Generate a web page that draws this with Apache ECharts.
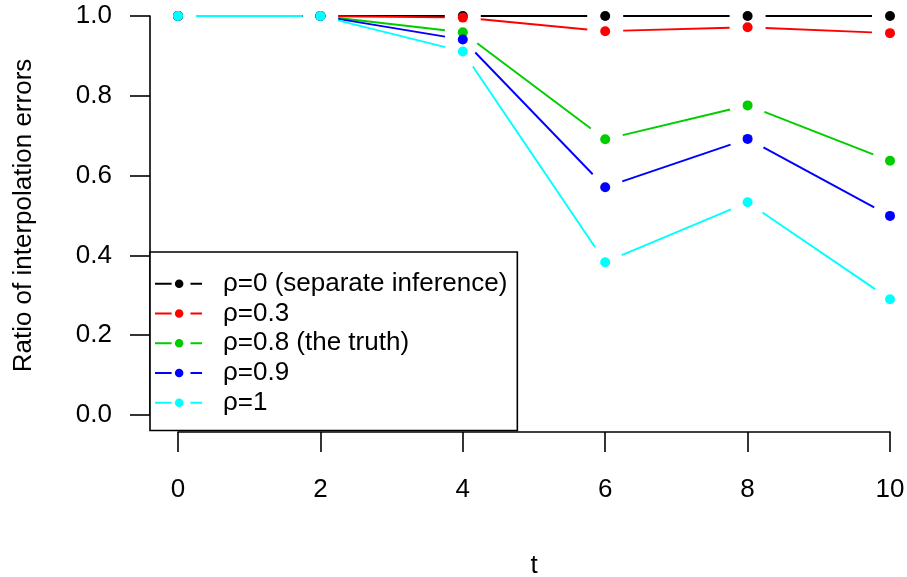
<!DOCTYPE html>
<html>
<head>
<meta charset="utf-8">
<script src="https://cdn.jsdelivr.net/npm/echarts@6/dist/echarts.min.js"></script>
<style>
html,body{margin:0;padding:0;background:#fff;}
#chart{width:907px;height:577px;}
</style>
</head>
<body>
<div id="chart"></div>
<script>
// ---- data ----
const tValues = [0, 2, 4, 6, 8, 10];
const rho0  = [1, 1, 1.000, 1.000, 1.000, 1.000];
const rho03 = [1, 1, 0.996, 0.962, 0.972, 0.957];
const rho08 = [1, 1, 0.959, 0.691, 0.776, 0.637];
const rho09 = [1, 1, 0.941, 0.571, 0.692, 0.499];
const rho1  = [1, 1, 0.911, 0.383, 0.533, 0.290];
const seriesNames = ['ρ=0 (separate inference)', 'ρ=0.3', 'ρ=0.8 (the truth)', 'ρ=0.9', 'ρ=1'];
const seriesValues = [rho0, rho03, rho08, rho09, rho1];
const seriesColors = ['#000000', '#FF0000', '#00CD00', '#0000FF', '#00FFFF'];
const xTicks = [0, 2, 4, 6, 8, 10];
const yTicks = [0.0, 0.2, 0.4, 0.6, 0.8, 1.0];
const xTitle = 't';
const yTitle = 'Ratio of interpolation errors';

const FONT = "'Liberation Sans', Arial, sans-serif";
const FS = 26;
const GAP = 18;     // gap between point and line (type = "b")
const R = 5;        // point radius

function buildData(vals) {
  return vals.map((v, i) => {
    const ni = Math.min(i + 1, vals.length - 1);
    return [tValues[i], v, tValues[ni], vals[ni]];
  });
}

function renderItem(params, api) {
  const p = api.coord([api.value(0), api.value(1)]);
  const q = api.coord([api.value(2), api.value(3)]);
  const color = api.visual('color');
  const children = [];
  const dx = q[0] - p[0], dy = q[1] - p[1];
  const len = Math.sqrt(dx * dx + dy * dy);
  if (len > 2 * GAP) {
    const ux = dx / len, uy = dy / len;
    children.push({
      type: 'line',
      shape: { x1: p[0] + ux * GAP, y1: p[1] + uy * GAP, x2: q[0] - ux * GAP, y2: q[1] - uy * GAP },
      style: { stroke: color, lineWidth: 1.9 }
    });
  }
  children.push({ type: 'circle', shape: { cx: p[0], cy: p[1], r: R }, style: { fill: color } });
  return { type: 'group', children };
}

const iconPath = 'path://M0,3.3H16.7V5.3H0Z M20,4.3A4.3,4.3 0 1,1 28.6,4.3A4.3,4.3 0 1,1 20,4.3Z M35.7,3.3H47.3V5.3H35.7Z';

const chart = echarts.init(document.getElementById('chart'), null, { renderer: 'canvas' });
chart.setOption({
  animation: false,
  backgroundColor: '#ffffff',
  grid: { left: 178, right: 17, top: 16, bottom: 162, containLabel: false, outerBoundsMode: 'none' },
  xAxis: {
    type: 'value', min: xTicks[0], max: xTicks[xTicks.length - 1], interval: 2,
    offset: 17,
    name: xTitle, nameLocation: 'middle', nameGap: 121, nameMoveOverlap: false,
    nameTextStyle: { fontFamily: FONT, fontSize: FS, color: '#000' },
    axisLine: { show: true, onZero: false, lineStyle: { color: '#000', width: 1.6 } },
    axisTick: { show: true, length: 20, lineStyle: { color: '#000', width: 1.6 } },
    axisLabel: { margin: 45, fontFamily: FONT, fontSize: FS, color: '#000' },
    splitLine: { show: false }
  },
  yAxis: {
    type: 'value', min: yTicks[0], max: yTicks[yTicks.length - 1], interval: 0.2,
    offset: 28,
    name: yTitle, nameLocation: 'middle', nameGap: 113, nameRotate: 90, nameMoveOverlap: false,
    nameTextStyle: { fontFamily: FONT, fontSize: FS, color: '#000' },
    axisLine: { show: true, onZero: false, lineStyle: { color: '#000', width: 1.6 } },
    axisTick: { show: true, length: 20, lineStyle: { color: '#000', width: 1.6 } },
    axisLabel: { margin: 38, fontFamily: FONT, fontSize: FS, color: '#000', formatter: v => v.toFixed(1) },
    splitLine: { show: false }
  },
  legend: {
    orient: 'vertical', left: 150, top: 252,
    padding: [17, 10, 13, 5],
    itemGap: 0, itemWidth: 47, itemHeight: 9,
    selectedMode: false,
    borderColor: '#000', borderWidth: 1.6, backgroundColor: '#fff',
    textStyle: { fontFamily: FONT, fontSize: FS, color: '#000', lineHeight: 29.7, padding: [0, 0, 0, 16] },
    data: seriesNames.map(n => ({ name: n, icon: iconPath }))
  },
  series: seriesNames.map((n, k) => ({
    name: n, type: 'custom', renderItem,
    itemStyle: { color: seriesColors[k] },
    encode: { x: 0, y: 1 },
    data: buildData(seriesValues[k]),
    z: 2 + k
  }))
});
</script>
</body>
</html>
